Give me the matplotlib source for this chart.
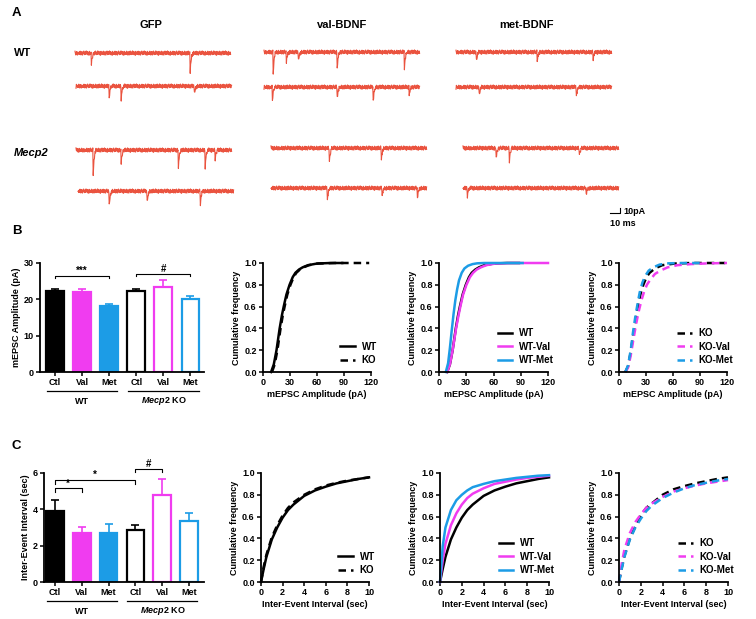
import numpy as np
import matplotlib
matplotlib.use("Agg")
import matplotlib.pyplot as plt

plt.rcParams['font.family'] = ['Liberation Sans', 'DejaVu Sans']
plt.rcParams['font.weight'] = 'bold'
plt.rcParams['mathtext.fontset'] = 'custom'
plt.rcParams['mathtext.it'] = 'Liberation Sans:italic:bold'
plt.rcParams['mathtext.rm'] = 'Liberation Sans:bold'

# =============================================================================
# DATA
# =============================================================================
BLACK = '#000000'
MAG = '#f03cf0'
BLUE = '#1c9ce6'
RED = '#e8402a'

bar_labels = ['Ctl', 'Val', 'Met', 'Ctl', 'Val', 'Met']
bar_colors = [BLACK, MAG, BLUE, BLACK, MAG, BLUE]
bar_filled = [True, True, True, False, False, False]

amp_mean = [22.2, 22.0, 18.3, 22.3, 23.5, 20.1]
amp_err = [0.6, 0.9, 0.4, 0.6, 1.7, 0.8]

iei_mean = [3.93, 2.70, 2.70, 2.84, 4.78, 3.35]
iei_err = [0.58, 0.34, 0.47, 0.29, 0.88, 0.43]

# cumulative amplitude distributions (pA, fraction)
amp_wt_x = [9, 12, 15, 18.5, 21, 23, 26, 29.5, 33, 36, 40, 44, 50, 60, 75, 88]
amp_wt_y = [0, 0.07, 0.2, 0.4, 0.52, 0.6, 0.71, 0.8, 0.87, 0.91, 0.94, 0.96, 0.98, 0.995, 1.0, 1.0]
amp_ko1_x = [10, 13, 16, 19.5, 22, 24, 27, 30.5, 34, 37, 41, 45, 51, 61, 80, 118]
amp_ko1_y = [0, 0.07, 0.2, 0.4, 0.52, 0.6, 0.71, 0.8, 0.87, 0.91, 0.94, 0.96, 0.98, 0.995, 1.0, 1.0]
amp_wtval_x = [9, 12, 15, 18.8, 21.5, 23.5, 26.5, 30.2, 34, 37.5, 41.5, 46, 52, 62, 80, 120]
amp_wtval_y = [0, 0.07, 0.2, 0.4, 0.52, 0.6, 0.71, 0.8, 0.87, 0.91, 0.94, 0.96, 0.98, 0.995, 1.0, 1.0]
amp_wtmet_x = [7.5, 10, 12, 14, 16, 18, 20, 22, 25, 28, 32, 37, 42, 50, 70, 92]
amp_wtmet_y = [0, 0.08, 0.22, 0.38, 0.53, 0.66, 0.76, 0.84, 0.91, 0.95, 0.975, 0.99, 0.997, 1.0, 1.0, 1.0]
amp_ko_x = [7, 10, 13, 16, 18.5, 21, 24, 27, 30.5, 34, 40, 48, 62, 80, 118]
amp_ko_y = [0, 0.05, 0.18, 0.35, 0.47, 0.6, 0.72, 0.8, 0.87, 0.91, 0.95, 0.98, 0.995, 1.0, 1.0]
amp_koval_x = [7, 10, 13, 16, 19, 22, 25, 28, 31, 35, 40, 46, 54, 65, 80, 100, 120]
amp_koval_y = [0, 0.04, 0.15, 0.3, 0.44, 0.56, 0.66, 0.74, 0.8, 0.85, 0.9, 0.93, 0.96, 0.98, 0.99, 0.997, 1.0]
amp_komet_x = [7, 10, 13, 15.5, 18, 20.5, 23, 26, 29, 33, 38, 45, 55, 70, 90]
amp_komet_y = [0, 0.06, 0.2, 0.36, 0.5, 0.62, 0.73, 0.82, 0.88, 0.93, 0.96, 0.985, 0.997, 1.0, 1.0]

# cumulative inter-event interval distributions (sec, fraction)
iei_x = [0, 0.25, 0.5, 1, 1.5, 2, 2.5, 3, 4, 5, 6, 7, 8, 9, 10]
iei_wt = [0, 0.12, 0.23, 0.39, 0.5, 0.59, 0.66, 0.71, 0.79, 0.84, 0.875, 0.905, 0.925, 0.945, 0.96]
iei_ko1 = [0, 0.14, 0.25, 0.41, 0.52, 0.61, 0.68, 0.73, 0.8, 0.85, 0.885, 0.91, 0.93, 0.945, 0.96]
iei_wtval = [0, 0.2, 0.35, 0.52, 0.63, 0.71, 0.77, 0.81, 0.86, 0.9, 0.92, 0.94, 0.955, 0.965, 0.975]
iei_wtmet = [0, 0.33, 0.5, 0.66, 0.75, 0.8, 0.84, 0.87, 0.9, 0.925, 0.94, 0.955, 0.965, 0.975, 0.98]
iei_ko = [0, 0.13, 0.24, 0.4, 0.51, 0.61, 0.68, 0.72, 0.8, 0.85, 0.88, 0.905, 0.925, 0.945, 0.96]
iei_koval = [0, 0.17, 0.3, 0.45, 0.55, 0.62, 0.68, 0.72, 0.78, 0.83, 0.86, 0.885, 0.905, 0.92, 0.935]
iei_komet = [0, 0.12, 0.23, 0.39, 0.5, 0.58, 0.65, 0.7, 0.77, 0.82, 0.86, 0.89, 0.91, 0.93, 0.945]

# example traces: event times (ms) and depths (pA) for each trace
trace_events = {
    ('GFP', 'WT', 0): ([16, 115], [22, 38]),
    ('GFP', 'WT', 1): ([33, 45, 118], [22, 26, 16]),
    ('GFP', 'KO', 0): ([17, 45, 102, 129, 139], [50, 26, 34, 34, 18]),
    ('GFP', 'KO', 1): ([31, 69, 122], [30, 22, 26]),
    ('Val', 'WT', 0): ([9, 22, 34, 73, 140], [42, 20, 18, 32, 32]),
    ('Val', 'WT', 1): ([8, 73, 109, 145], [26, 22, 28, 16]),
    ('Val', 'KO', 0): ([58, 110], [28, 22]),
    ('Val', 'KO', 1): ([56, 111, 146], [24, 16, 22]),
    ('Met', 'WT', 0): ([20, 81, 137], [18, 18, 14]),
    ('Met', 'WT', 1): ([23, 120], [16, 18]),
    ('Met', 'KO', 0): ([33, 46, 116], [20, 26, 14]),
    ('Met', 'KO', 1): ([4, 123], [16, 14]),
}
# baseline noise (pA), one short stretch
noise_pA = [0.0, 2.2, -1.4, 1.8, -2.6, 0.6, 2.8, -0.8, -2.0, 1.2, 3.0, -1.6,
            0.4, -2.8, 1.6, 2.4, -0.6, -1.8, 2.0, -3.0, 0.8, 1.4, -2.2, 2.6,
            -0.4, -1.2, 3.2, -2.4, 1.0]
event_shape = [0.0, 1.0, 0.7, 0.45, 0.28, 0.16, 0.08, 0.03, 0.0]

# =============================================================================
# FIGURE
# =============================================================================
W, H = 756, 619
fig = plt.figure(figsize=(W / 100, H / 100), dpi=100)

def px_axes(left, right, top, bottom, **kw):
    return fig.add_axes([left / W, 1 - bottom / H, (right - left) / W, (bottom - top) / H], **kw)

over = px_axes(0, W, 0, H)
over.set_xlim(0, W)
over.set_ylim(H, 0)
over.axis('off')
over.patch.set_alpha(0)

# panel letters / headers
for lab, y in [('A', 13), ('B', 231), ('C', 446)]:
    over.text(12, y, lab, fontsize=9.5, fontweight='bold', va='center')
for lab, x in [('GFP', 151), ('val-BDNF', 342), ('met-BDNF', 526)]:
    over.text(x, 25, lab, fontsize=8, fontweight='bold', ha='center', va='center')
over.text(14, 53, 'WT', fontsize=8, fontweight='bold', va='center')
over.text(14, 153, 'Mecp2', fontsize=8, fontweight='bold', fontstyle='italic', va='center')

# traces
trace_pos = {
    'GFP': [(75, 53), (76, 86), (76, 150), (78, 191)],
    'Val': [(264, 52), (264, 87), (271, 148), (271, 188)],
    'Met': [(456, 52), (456, 87), (463, 148), (463, 188)],
}
dt = 0.4
t = np.arange(0, 156, dt)
for col, slots in trace_pos.items():
    for k, (x0, y0) in enumerate(slots):
        geno = 'WT' if k < 2 else 'KO'
        times, depths = trace_events[(col, geno, k % 2)]
        shift = (7 * k + len(col) * 3) % len(noise_pA)
        noise = np.roll(np.resize(noise_pA, len(t)), shift)
        cur = 1.4 * noise
        for te, d in zip(times, depths):
            i0 = int(te / dt)
            for j, f in enumerate(event_shape):
                if i0 + j < len(cur):
                    cur[i0 + j] += d * f
        over.plot(x0 + t, y0 + cur / 2.0, color=RED, lw=0.8, alpha=0.9)

# scale bar: 10 ms = 10 px, 10 pA = 5 px
over.plot([610, 620, 620], [213, 213, 208], color='k', lw=0.8)
over.text(623, 212, '10pA', fontsize=6.5, fontweight='bold', va='center')
over.text(610, 224, '10 ms', fontsize=6.5, fontweight='bold', va='center')


def style(ax):
    for s in ['top', 'right']:
        ax.spines[s].set_visible(False)
    for s in ['left', 'bottom']:
        ax.spines[s].set_linewidth(1.3)
    ax.tick_params(width=1.1, length=3, labelsize=6.5, pad=1.5)
    for lbl in ax.get_xticklabels() + ax.get_yticklabels():
        lbl.set_fontweight('bold')


def bar_panel(ax, means, errs, ylim, yticks, ylabel, xl):
    pos = np.arange(len(means))
    for p, m, e, c, f in zip(pos, means, errs, bar_colors, bar_filled):
        ax.bar(p, m, width=0.66, color=c if f else 'white', edgecolor=c, linewidth=1.6, zorder=2)
        ax.errorbar(p, m, yerr=[[0], [e]], color=c, capsize=3, elinewidth=1.2, capthick=1.2, zorder=1)
    ax.set_xlim(*xl)
    ax.set_ylim(*ylim)
    ax.set_yticks(yticks)
    ax.set_xticks(pos)
    ax.set_xticklabels(bar_labels)
    ax.set_ylabel(ylabel, fontsize=6.5, fontweight='bold', labelpad=2)
    style(ax)
    tr = ax.get_xaxis_transform()
    ax.plot([-0.3, 2.3], [-0.175, -0.175], color='k', lw=0.9, transform=tr, clip_on=False)
    ax.plot([2.7, 5.3], [-0.175, -0.175], color='k', lw=0.9, transform=tr, clip_on=False)
    ax.text(1, -0.27, 'WT', transform=tr, ha='center', va='center', fontsize=6.5, fontweight='bold')
    ax.text(4, -0.27, r'$\mathit{Mecp2}$ KO', transform=tr, ha='center', va='center',
            fontsize=6.5, fontweight='bold')


def bracket(ax, x1, x2, y, drop, label):
    ax.plot([x1, x1, x2, x2], [y - drop, y, y, y - drop], color='k', lw=0.8, clip_on=False)
    ax.text((x1 + x2) / 2, y, label, ha='center', va='bottom', fontsize=7, fontweight='bold')


# B bars
axb = px_axes(40, 204, 263, 372)
bar_panel(axb, amp_mean, amp_err, (0, 30), [0, 10, 20, 30], 'mEPSC Amplitude (pA)', (-0.55, 5.5))
bracket(axb, 0, 2, 26.5, 0.7, '***')
bracket(axb, 3, 5, 27.1, 0.7, '#')

# C bars
axc = px_axes(44, 204, 473, 582)
bar_panel(axc, iei_mean, iei_err, (0, 6), [0, 2, 4, 6], 'Inter-Event Interval (sec)', (-0.4, 5.55))
bracket(axc, 0, 1, 5.15, 0.18, '*')
bracket(axc, 0, 3, 5.6, 0.18, '*')
bracket(axc, 3, 4, 6.22, 0.18, '#')


def cum_panel(box, curves, xlim, xticks, xlabel):
    ax = px_axes(*box)
    for x, y, c, ls, lab in curves:
        ax.plot(x, y, color=c, ls=ls, lw=1.8, label=lab, dashes=(3, 2) if ls == '--' else (None, None),
                clip_on=False)
    ax.set_xlim(*xlim)
    ax.set_ylim(0, 1.0)
    ax.set_xticks(xticks)
    ax.set_yticks([0, 0.2, 0.4, 0.6, 0.8, 1.0])
    ax.set_yticklabels(['0.0', '0.2', '0.4', '0.6', '0.8', '1.0'])
    ax.set_ylabel('Cumulative frequency', fontsize=6.5, fontweight='bold', labelpad=2)
    ax.set_xlabel(xlabel, fontsize=6.5, fontweight='bold', labelpad=2)
    style(ax)
    leg = ax.legend(loc='lower right', bbox_to_anchor=(1.1, 0.02), frameon=False, fontsize=7,
                    handlelength=1.5, borderaxespad=0.1, labelspacing=0.35, handletextpad=0.7)
    for tx in leg.get_texts():
        tx.set_fontweight('bold')
    return ax

amp_ticks = [0, 30, 60, 90, 120]
amp_lab = 'mEPSC Amplitude (pA)'
cum_panel((263, 371, 263, 372), [
    (amp_wt_x, amp_wt_y, BLACK, '-', 'WT'),
    (amp_ko1_x, amp_ko1_y, BLACK, '--', 'KO')], (0, 120), amp_ticks, amp_lab)
cum_panel((439, 548, 263, 372), [
    (amp_wt_x, amp_wt_y, BLACK, '-', 'WT'),
    (amp_wtval_x, amp_wtval_y, MAG, '-', 'WT-Val'),
    (amp_wtmet_x, amp_wtmet_y, BLUE, '-', 'WT-Met')], (0, 120), amp_ticks, amp_lab)
cum_panel((619, 727, 263, 372), [
    (amp_ko_x, amp_ko_y, BLACK, '--', 'KO'),
    (amp_koval_x, amp_koval_y, MAG, '--', 'KO-Val'),
    (amp_komet_x, amp_komet_y, BLUE, '--', 'KO-Met')], (0, 120), amp_ticks, amp_lab)

iei_ticks = [0, 2, 4, 6, 8, 10]
iei_lab = 'Inter-Event Interval (sec)'
cum_panel((261, 369, 473, 582), [
    (iei_x, iei_wt, BLACK, '-', 'WT'),
    (iei_x, iei_ko1, BLACK, '--', 'KO')], (0, 10), iei_ticks, iei_lab)
cum_panel((440, 549, 473, 582), [
    (iei_x, iei_wt, BLACK, '-', 'WT'),
    (iei_x, iei_wtval, MAG, '-', 'WT-Val'),
    (iei_x, iei_wtmet, BLUE, '-', 'WT-Met')], (0, 10), iei_ticks, iei_lab)
cum_panel((619, 728, 473, 582), [
    (iei_x, iei_ko, BLACK, '--', 'KO'),
    (iei_x, iei_koval, MAG, '--', 'KO-Val'),
    (iei_x, iei_komet, BLUE, '--', 'KO-Met')], (0, 10), iei_ticks, iei_lab)

fig.savefig('out.png', dpi=100)
